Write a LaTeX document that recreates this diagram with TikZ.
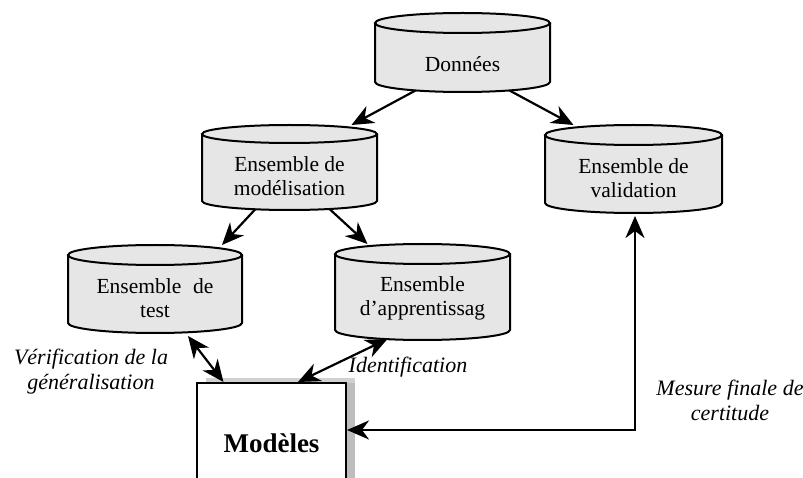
\documentclass[tikz,border=0pt]{standalone}
\usepackage{fontspec}
\setmainfont{Liberation Serif}
\usetikzlibrary{arrows.meta,calc}
\definecolor{drumfill}{HTML}{E6E6E6}
\definecolor{shadowgray}{HTML}{BDBDBD}
\tikzset{
  >={Stealth[length=22pt,width=19pt,inset=7pt]},
  drumline/.style={draw=black, line width=2pt},
  drumbody/.style={draw=none, rectangle, inner sep=0pt, outer sep=0pt},
  drumtext/.style={align=center, inner sep=0pt, font=\fontsize{21.5}{24}\selectfont},
  flow/.style={line width=2.2pt, ->},
  link/.style={line width=2.2pt, <->},
  note/.style={align=center, inner sep=0pt, font=\fontsize{22}{25}\selectfont\itshape},
  modelbox/.style={draw=black, line width=2pt, fill=white, rectangle,
    minimum width=149pt, minimum height=120pt, font=\fontsize{27}{30}\selectfont\bfseries},
}
% \drum{name}{cx}{top}{bottom}{rx}{ry}{text y}{text}
\newcommand\drum[8]{%
  \path[fill=drumfill] ({#2-#5},{#3+#6}) -- ({#2-#5},{#4-#6})
    arc[start angle=180,end angle=360,x radius=#5pt,y radius=#6pt]
    -- ({#2+#5},{#3+#6})
    arc[start angle=0,end angle=180,x radius=#5pt,y radius=#6pt] -- cycle;
  \draw[drumline] ({#2-#5},{#3+#6}) -- ({#2-#5},{#4-#6})
    arc[start angle=180,end angle=360,x radius=#5pt,y radius=#6pt]
    -- ({#2+#5},{#3+#6});
  \draw[drumline] (#2,{#3+#6}) ellipse [x radius=#5pt, y radius=#6pt];
  \node[drumbody, minimum width={2*#5*1pt}, minimum height={(#4-#3)*1pt}]
    (#1) at (#2,{(#3+#4)/2}) {};
  \node[drumtext] (#1-label) at (#2,#7) {#8};
}
\begin{document}
\begin{tikzpicture}[x=1pt,y=-1pt]
\useasboundingbox (0,0) rectangle (803,478);
\clip (0,0) rectangle (803,478);

% data stores
\drum{don}{462.5}{13}{92}{87.5}{10}{64}{Données}
\drum{mdl}{289.5}{125}{210}{87.5}{9}{176}{Ensemble de\\modélisation}
\drum{val}{633.5}{125}{213}{88.5}{10}{178.5}{Ensemble de\\validation}
\drum{tst}{155}{245}{333}{87}{10}{298.5}{Ensemble\hspace{0.55em}de\\test}
\drum{app}{422.5}{244}{340}{87.5}{10}{298.5}{Ensemble\\d’apprentissag}

% model box with its shadow
\fill[shadowgray!70] (206,378) rectangle (355,383);
\fill[shadowgray] (346,383) rectangle (355,520);
\node[modelbox] (mod) at (271.5,443) {Modèles};

% splits
\draw[flow] ([xshift=-47pt,yshift=1.5pt]don.south) -- ([xshift=62pt]mdl.north);
\draw[flow] ([xshift=47pt,yshift=1.5pt]don.south) -- ([xshift=-60pt]val.north);
\draw[flow] ([xshift=-34pt,yshift=1pt]mdl.south) -- ([xshift=67pt]tst.north);
\draw[flow] ([xshift=40pt,yshift=1pt]mdl.south) -- ([xshift=-55pt]app.north);

% exchanges with the models
\draw[link] ([xshift=33pt,yshift=-3pt]tst.south) -- ([xshift=-48pt]mod.north);
\draw[link] ([xshift=-35pt,yshift=1pt]app.south) -- ([xshift=26.5pt]mod.north);
\draw[link] ([yshift=13pt]mod.east) -| ([xshift=1.5pt,yshift=-3pt]val.south);

% labels
\node[note] (verif) at (91,372) {Vérification de la\\généralisation};
\node[note] (ident) at (408,367) {Identification};
\node[note] (mesure) at (730,400) {Mesure finale de\\certitude};
\end{tikzpicture}
\end{document}
